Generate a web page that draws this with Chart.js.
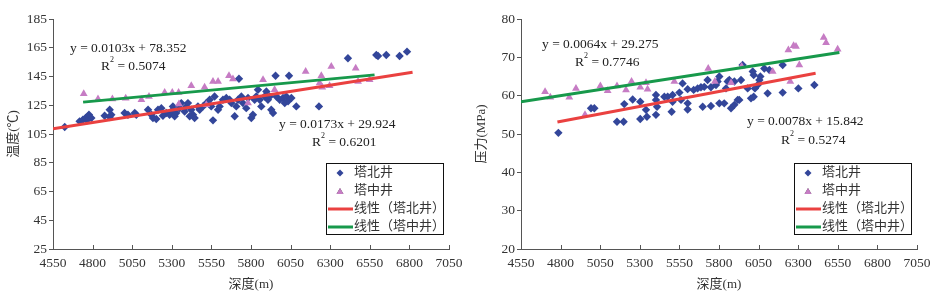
<!DOCTYPE html>
<html lang="zh">
<head>
  <meta charset="UTF-8">
  <title>深度-温度 / 深度-压力</title>
  <script src="https://cdn.jsdelivr.net/npm/chart.js"></script>
  <style>
    body {
      margin: 0;
      background: #fff;
      width: 938px;
      height: 305px;
      overflow: hidden;
      position: relative;
    }
    .panel {
      position: absolute;
      top: 0;
      width: 470px;
      height: 305px;
    }
    #p1 { left: 0; }
    #p2 { left: 468px; }
  </style>
</head>
<body>
  <div class="panel" id="p1"><canvas id="tempChart" width="470" height="305"></canvas></div>
  <div class="panel" id="p2"><canvas id="presChart" width="470" height="305"></canvas></div>

  <script>
    // legend labels
    const seriesNames = ['塔北井', '塔中井', '线性（塔北井）', '线性（塔中井）'];
    const depthTicks = [4550, 4800, 5050, 5300, 5550, 5800, 6050, 6300, 6550, 6800, 7050];
    const tempTicks = [25, 45, 65, 85, 105, 125, 145, 165, 185];
    const presTicks = [20, 30, 40, 50, 60, 70, 80];

    // temperature: 塔北井
    const tbDepthT = [4624, 4718, 4739, 4756, 4771, 4777, 4792, 4765, 4876, 4908, 4918, 4908,
      5002, 5023, 5066, 5076, 5150, 5171, 5181, 5202, 5213, 5234, 5244, 5265, 5286, 5297,
      5307, 5318, 5328, 5349, 5360, 5381, 5392, 5402, 5423, 5434, 5444, 5413, 5465, 5476,
      5497, 5518, 5539, 5549, 5560, 5570, 5592, 5602, 5623, 5644, 5665, 5676, 5697, 5707,
      5718, 5724, 5739, 5749, 5770, 5781, 5802, 5812, 5823, 5833, 5844, 5855, 5865, 5886,
      5897, 5907, 5918, 5928, 5939, 5955, 5960, 5981, 6002, 6013, 6023, 6034, 6040, 6055,
      6086, 6229, 6412, 6591, 6602, 6654, 6738, 6785];
    const tbTemp = [109.9, 113.8, 114.9, 116.1, 117.3, 118.4, 116.1, 114.5, 117.7, 121.9, 118.4, 116.8,
      119.6, 118.4, 119.6, 118.4, 121.9, 118.4, 116.1, 115.4, 121.9, 123.0, 117.7, 119.6, 118.4, 120.7,
      124.2, 117.3, 119.6, 123.0, 126.5, 120.7, 124.2, 126.5, 121.9, 118.4, 116.1, 117.3, 124.2, 121.9,
      124.2, 126.5, 128.8, 124.2, 114.5, 131.1, 121.9, 124.2, 128.8, 130.0, 128.8, 126.5, 117.3, 124.2,
      128.8, 143.4, 131.1, 126.5, 123.0, 130.0, 116.1, 118.4, 128.8, 131.1, 135.8, 128.8, 124.2, 131.1,
      134.6, 128.8, 131.1, 121.9, 119.6, 145.5, 131.1, 128.8, 130.0, 126.5, 131.1, 127.7, 145.5, 130.0,
      124.2, 124.2, 157.7, 160.0, 159.3, 160.0, 159.3, 162.3];

    // temperature: 塔中井
    const tzDepthT = [4744, 4834, 4925, 5009, 5108, 5156, 5255, 5303, 5343, 5423, 5507, 5560,
      5592, 5661, 5686, 5781, 5876, 5949, 6145, 6244, 6233, 6250, 6307, 6296, 6461, 6476,
      6549, 5518, 5345];
    const tzTemp = [133.0, 129.3, 129.3, 129.8, 128.8, 131.1, 133.9, 133.9, 133.9, 138.5, 137.6, 141.5,
      141.5, 145.5, 143.2, 126.5, 142.7, 135.8, 148.5, 145.5, 140.4, 137.6, 151.9, 138.5, 150.8, 141.5,
      142.7, 125.4, 125.8];

    // pressure: 塔北井
    const tbDepthP = [4786, 4992, 5013, 5156, 5198, 5202, 5255, 5303, 5303, 5339, 5345, 5402,
      5402, 5409, 5402, 5455, 5476, 5507, 5507, 5501, 5550, 5560, 5570, 5602, 5602, 5602,
      5640, 5665, 5686, 5697, 5707, 5728, 5749, 5749, 5781, 5791, 5802, 5802, 5833, 5844,
      5855, 5865, 5876, 5897, 5918, 5928, 5897, 5939, 5949, 5981, 6002, 6013, 6019, 6019,
      6027, 6044, 6055, 6061, 6086, 6107, 6118, 6202, 6202, 6301, 6402];
    const tbPres = [50.3, 56.7, 56.7, 53.2, 53.2, 57.8, 59.0, 58.4, 53.9, 56.3, 54.5, 60.2,
      58.9, 57.1, 55.0, 59.7, 59.7, 60.2, 58.4, 55.8, 60.8, 58.9, 63.2, 61.7, 58.0, 56.4,
      61.5, 61.9, 62.2, 57.1, 62.3, 64.1, 62.2, 57.3, 62.8, 63.7, 65.0, 58.0, 58.0, 61.9,
      63.7, 64.1, 56.7, 57.6, 58.9, 58.9, 63.7, 64.1, 68.0, 61.9, 59.3, 66.3, 65.4, 59.7,
      61.9, 62.8, 64.1, 65.0, 67.1, 60.6, 66.7, 68.0, 60.8, 61.9, 62.8];

    // pressure: 塔中井
    const tzDepthP = [4702, 4735, 4855, 4897, 4954, 5051, 5097, 5156, 5213, 5248, 5303, 5339,
      5349, 5518, 5732, 5774, 5876, 5943, 6139, 6238, 6250, 6286, 6307, 6461, 6476, 6549, 6271];
    const tzPres = [61.0, 59.6, 59.6, 61.9, 55.0, 62.5, 61.3, 62.5, 61.5, 63.7, 62.2, 63.4,
      61.7, 63.7, 67.1, 63.7, 63.4, 67.6, 66.3, 71.9, 63.7, 72.8, 68.0, 75.2, 73.8, 72.1, 73.0];

    // trend lines from the equations in the picture: [slope, intercept, xFrom, xTo]
    const tempFitTb = [0.0173, 29.924, 4550, 6820];
    const tempFitTz = [0.0103, 78.352, 4740, 6580];
    const presFitTb = [0.0078, 15.842, 4780, 6410];
    const presFitTz = [0.0064, 29.275, 4550, 6560];

    const BLUE = '#33469a';
    const PINK = '#c67cc4';
    const RED = '#ea4140';
    const GREEN = '#17994b';
    const TEXT = '#222';
    const AXIS = '#555';
    const SERIF = '"Liberation Serif", "Times New Roman", "Noto Sans CJK SC", serif';

    function pairs(xs, ys) {
      return xs.map((x, i) => ({ x: x, y: ys[i] }));
    }

    function fitLine(f) {
      return [f[2], f[3]].map(x => ({ x: x, y: f[0] * x + f[1] }));
    }

    // legend box, equation text and the inward x tick marks
    const overlayPlugin = {
      id: 'overlay',
      afterDraw(chart, args, opts) {
        const ctx = chart.ctx;
        const area = chart.chartArea;
        ctx.save();

        // x ticks pointing up into the plot
        ctx.strokeStyle = AXIS;
        ctx.lineWidth = 1;
        const xs = chart.scales.x;
        depthTicks.forEach(v => {
          const px = Math.round(xs.getPixelForValue(v)) + 0.5;
          ctx.beginPath();
          ctx.moveTo(px, area.bottom);
          ctx.lineTo(px, area.bottom - 4);
          ctx.stroke();
        });

        // equations
        ctx.fillStyle = TEXT;
        ctx.textBaseline = 'middle';
        ctx.textAlign = 'left';
        opts.labels.forEach(l => {
          ctx.font = '13.5px ' + SERIF;
          if (l.r2) {
            ctx.fillText('R', l.x, l.y);
            const w = ctx.measureText('R').width;
            ctx.font = '8px ' + SERIF;
            ctx.fillText('2', l.x + w, l.y - 6);
            ctx.font = '13.5px ' + SERIF;
            ctx.fillText(' = ' + l.text, l.x + w + 4, l.y);
          } else {
            ctx.fillText(l.text, l.x, l.y);
          }
        });

        // legend
        const b = opts.box;
        ctx.fillStyle = '#fff';
        ctx.fillRect(b.x, b.y, b.w, b.h);
        ctx.save();
        ctx.beginPath();
        ctx.rect(b.x, b.y, b.w, b.h);
        ctx.clip();
        const rows = [173, 191, 209, 227];
        ctx.font = '13px ' + SERIF;
        seriesNames.forEach((name, i) => {
          const yy = rows[i];
          if (i === 0) {
            Chart.helpers.drawPoint(ctx, { pointStyle: 'rectRot', radius: 3.5, borderWidth: 0 }, b.x + 14, yy);
            ctx.fillStyle = BLUE; ctx.fill();
          } else if (i === 1) {
            Chart.helpers.drawPoint(ctx, { pointStyle: 'triangle', radius: 4, borderWidth: 0 }, b.x + 14, yy + 1);
            ctx.fillStyle = PINK; ctx.fill();
          } else {
            ctx.strokeStyle = i === 2 ? RED : GREEN;
            ctx.lineWidth = 3;
            ctx.beginPath();
            ctx.moveTo(b.x + 2, yy);
            ctx.lineTo(b.x + 27, yy);
            ctx.stroke();
          }
          ctx.fillStyle = '#333';
          ctx.fillText(name, b.x + 28, yy);
        });
        ctx.restore();
        ctx.strokeStyle = '#111';
        ctx.lineWidth = 1;
        ctx.strokeRect(b.x + 0.5, b.y + 0.5, b.w, b.h);
        ctx.restore();
      }
    };

    function makeChart(id, tb, tz, fitTb, fitTz, yTicks, yTitle, labels) {
      const ctx = document.getElementById(id).getContext('2d');
      return new Chart(ctx, {
        type: 'scatter',
        data: {
          datasets: [
            {
              label: seriesNames[2], data: fitLine(fitTb), showLine: true,
              borderColor: RED, borderWidth: 3, pointRadius: 0, order: 0
            },
            {
              label: seriesNames[3], data: fitLine(fitTz), showLine: true,
              borderColor: GREEN, borderWidth: 3, pointRadius: 0, order: 0
            },
            {
              label: seriesNames[0], data: tb, pointStyle: 'rectRot', pointRadius: 4.2,
              backgroundColor: BLUE, borderColor: BLUE, borderWidth: 0, order: 2
            },
            {
              label: seriesNames[1], data: tz, pointStyle: 'triangle', pointRadius: 4.5,
              backgroundColor: PINK, borderColor: PINK, borderWidth: 0, order: 1
            }
          ]
        },
        options: {
          responsive: false,
          animation: false,
          layout: { padding: { top: 19, right: 21, left: 0, bottom: 0 } },
          plugins: {
            legend: { display: false },
            tooltip: { enabled: false },
            overlay: {
              box: { x: 326, y: 163, w: 117, h: 71 },
              labels: labels
            }
          },
          scales: {
            x: {
              type: 'linear',
              min: depthTicks[0],
              max: depthTicks[depthTicks.length - 1],
              afterBuildTicks: s => { s.ticks = depthTicks.map(v => ({ value: v })); },
              afterFit: s => { s.height = 56; },
              border: { color: AXIS, width: 1 },
              grid: { drawOnChartArea: false, drawTicks: true, tickLength: 0, color: AXIS },
              ticks: {
                color: '#333', padding: 6, maxRotation: 0,
                font: { family: SERIF, size: 13.5 },
                callback: v => String(v)
              },
              title: {
                display: true, text: '深度(m)', color: '#333',
                font: { family: SERIF, size: 13 }, padding: { top: 2, bottom: 13 }
              }
            },
            y: {
              type: 'linear',
              min: yTicks[0],
              max: yTicks[yTicks.length - 1],
              afterBuildTicks: s => { s.ticks = yTicks.map(v => ({ value: v })); },
              afterFit: s => { s.width = 53; },
              border: { color: AXIS, width: 1 },
              grid: { drawOnChartArea: false, tickLength: 4, color: AXIS },
              ticks: {
                color: '#333', padding: 2,
                font: { family: SERIF, size: 13.5 },
                callback: v => String(v)
              },
              title: {
                display: true, text: yTitle, color: '#333',
                font: { family: SERIF, size: 13 }, padding: { top: 6, bottom: 0 }
              }
            }
          }
        },
        plugins: [overlayPlugin]
      });
    }

    makeChart('tempChart', pairs(tbDepthT, tbTemp), pairs(tzDepthT, tzTemp),
      tempFitTb, tempFitTz, tempTicks, '温度(℃)', [
        { text: 'y = 0.0103x + 78.352', x: 70, y: 48 },
        { text: '0.5074', x: 101, y: 66, r2: true },
        { text: 'y = 0.0173x + 29.924', x: 279, y: 124 },
        { text: '0.6201', x: 312, y: 142, r2: true }
      ]);

    makeChart('presChart', pairs(tbDepthP, tbPres), pairs(tzDepthP, tzPres),
      presFitTb, presFitTz, presTicks, '压力(MPa)', [
        { text: 'y = 0.0064x + 29.275', x: 74, y: 44 },
        { text: '0.7746', x: 107, y: 62, r2: true },
        { text: 'y = 0.0078x + 15.842', x: 279, y: 121 },
        { text: '0.5274', x: 313, y: 140, r2: true }
      ]);
  </script>
</body>
</html>
